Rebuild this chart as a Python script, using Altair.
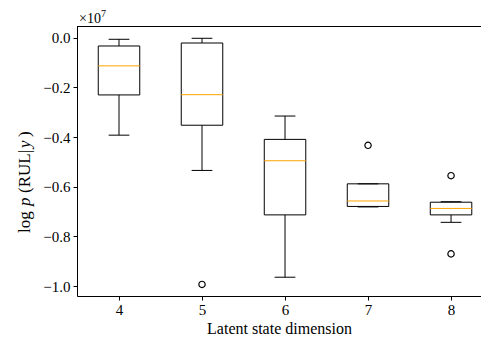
import altair as alt
import pandas as pd

# values in units of 1e7
dims = [4, 5, 6, 7, 8]
whislo = [-0.392, -0.534, -0.964, -0.681, -0.743]
q1 = [-0.230, -0.352, -0.713, -0.679, -0.713]
med = [-0.113, -0.229, -0.495, -0.657, -0.687]
q3 = [-0.033, -0.021, -0.409, -0.588, -0.662]
whishi = [-0.006, -0.002, -0.315, -0.588, -0.660]
out_x = [5, 7, 8, 8]
out_y = [-0.993, -0.433, -0.555, -0.870]

# y-axis title pieces (text, italic)
ytitle_parts = [("log", "normal"), ("p", "italic"), ("(RUL|", "normal"), ("y", "italic"), (")", "normal")]
ytitle_pos = [207, 180, 167, 122, 111]

W, H = 404, 270
FONT = "Liberation Serif"

stats = pd.DataFrame({"dim": dims, "lo": whislo, "q1": q1, "med": med, "q3": q3, "hi": whishi})
outs = pd.DataFrame({"dim": out_x, "val": out_y})
one = pd.DataFrame({"k": [0]})

xs = alt.Scale(domain=[3.494, 8.361], nice=False, zero=False)
ys = alt.Scale(domain=[-1.0396, 0.0475], nice=False, zero=False)

base = alt.Chart(stats).transform_calculate(
    xl="datum.dim - 0.25", xr="datum.dim + 0.25",
    cl="datum.dim - 0.125", cr="datum.dim + 0.125",
)

xaxis = alt.X("dim:Q", scale=xs, title="Latent state dimension",
              axis=alt.Axis(values=dims, format="d", grid=False,
                            labelFont=FONT, titleFont=FONT, labelFontSize=15, titleFontSize=16,
                            titleY=37.5, titleBaseline="alphabetic", labelPadding=2))
yaxis = alt.Y("q1:Q", scale=ys, title=None,
              axis=alt.Axis(values=[-1.0, -0.8, -0.6, -0.4, -0.2, 0.0], grid=False,
                            labelFont=FONT, labelFontSize=15,
                            format=".1f", labelExpr="replace(datum.label, '-', '\u2212')",
                            labelPadding=3))


def yq(field):
    return alt.Y(field, scale=ys, title=None)


def xq(field):
    return alt.X(field, scale=xs)


whisk_lo = base.mark_rule(color="black", strokeWidth=1).encode(
    x=xaxis, y=yaxis, y2="lo:Q")
whisk_hi = base.mark_rule(color="black", strokeWidth=1).encode(
    x=xq("dim:Q"), y=yq("q3:Q"), y2="hi:Q")
cap_lo = base.mark_rule(color="black", strokeWidth=1).encode(
    x=xq("cl:Q"), x2="cr:Q", y=yq("lo:Q"))
cap_hi = base.mark_rule(color="black", strokeWidth=1).encode(
    x=xq("cl:Q"), x2="cr:Q", y=yq("hi:Q"))
box = base.mark_rect(fill=None, stroke="black", strokeWidth=1).encode(
    x=xq("xl:Q"), x2="xr:Q", y=yq("q1:Q"), y2="q3:Q")
median = base.mark_rule(color="#ffa500", strokeWidth=1).encode(
    x=xq("xl:Q"), x2="xr:Q", y=yq("med:Q"))
fliers = alt.Chart(outs).mark_point(shape="circle", filled=False, color="black",
                                    size=40, strokeWidth=1.2, opacity=1).encode(
    x=xq("dim:Q"), y=yq("val:Q"))

topline = alt.Chart(one).mark_rule(color="black", strokeWidth=1).encode(
    x=alt.value(0), x2=alt.value(W), y=alt.value(0.5))
mult = alt.Chart(one).mark_text(text="\u00d710", font=FONT, fontSize=14, fontWeight="normal",
                                align="left", baseline="alphabetic", fill="black").encode(
    x=alt.value(2), y=alt.value(-3))
sup = alt.Chart(one).mark_text(text="7", font=FONT, fontSize=10, fontWeight="normal",
                               align="left", baseline="alphabetic", fill="black").encode(
    x=alt.value(24), y=alt.value(-9))

ytitle_layers = []
for (txt, style), pos in zip(ytitle_parts, ytitle_pos):
    ytitle_layers.append(
        alt.Chart(one).mark_text(text=txt, font=FONT, fontSize=17, fontStyle=style,
                                 fontWeight="normal", angle=270, align="left",
                                 baseline="alphabetic", fill="black").encode(
            x=alt.value(-47), y=alt.value(pos))
    )

chart = alt.layer(whisk_lo, whisk_hi, cap_lo, cap_hi, box, median, fliers, topline, mult, sup,
                  *ytitle_layers).properties(
    width=W, height=H,
    autosize=alt.AutoSizeParams(type="none"),
    padding={"left": 69, "top": 18, "right": 0, "bottom": 41},
).configure(font=FONT).configure_view(stroke=None).configure_axis(
    titleFontWeight="normal", labelColor="black", titleColor="black",
    domainColor="black", tickColor="black", tickSize=4, domainWidth=1,
)

chart.save("out.html", embed_options={"renderer": "svg", "actions": False})
